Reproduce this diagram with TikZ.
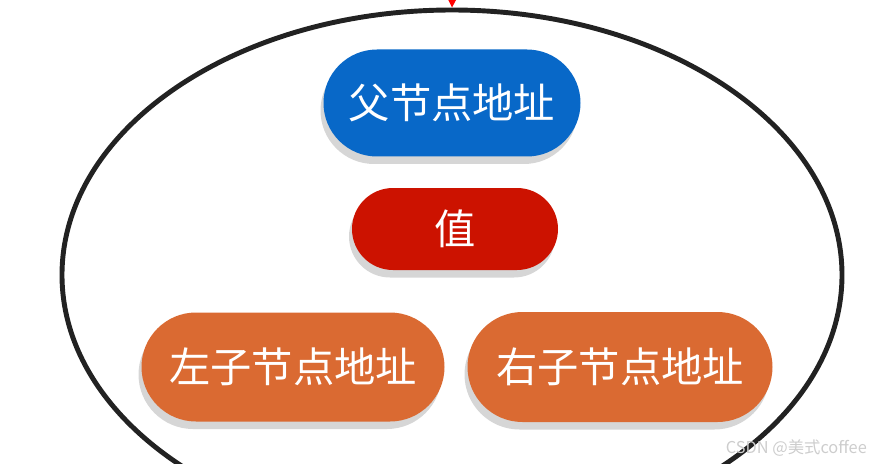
\documentclass[tikz,border=0pt]{standalone}
\usepackage{fontspec}
\setmainfont{Noto Sans CJK SC}
\usepackage{tikz}
\usetikzlibrary{shapes.geometric, shapes.misc, arrows.meta, shadows}
\definecolor{NdBlue}{RGB}{8,104,200}
\definecolor{NdRed}{RGB}{204,18,0}
\definecolor{NdOrange}{RGB}{218,106,50}
\definecolor{NdShadow}{RGB}{214,214,214}
\definecolor{NdRing}{RGB}{34,34,34}
\definecolor{NdMark}{RGB}{205,205,205}

\begin{document}
\begin{tikzpicture}[
          fld/.style={rounded rectangle, inner sep=0pt, text=white,
                      font=\fontsize{23.5}{28}\selectfont,
                      drop shadow={shadow xshift=-0.06cm, shadow yshift=-0.15cm,
                                   fill=NdShadow, opacity=1}},
          ring/.style={ellipse, draw=NdRing, line width=2.8pt, inner sep=0pt,
                       minimum width=15.6cm, minimum height=10.6cm},
          arr/.style={-{Triangle[length=0.3cm, width=0.3cm]}, draw=red, thick}
        ]
        \useasboundingbox (0,0) rectangle (17.52,9.26);
        \clip (0,0) rectangle (17.52,9.26);

        % tree node as one big ring
        \node[ring] (node) at (9.04, 3.76) {};
        \coordinate (in) at (9.06, 10.2);
        \draw[arr] (in) -- (node.north);

        \node[fld, fill=NdBlue, minimum width=5.14cm, minimum height=2.14cm]
              (parent) at (9.04, 7.2) {父节点地址};
        \node[fld, fill=NdRed, minimum width=4.12cm, minimum height=1.64cm]
              (val) at (9.10, 4.68) {值};
        \node[fld, fill=NdOrange, minimum width=6.06cm, minimum height=2.18cm]
              (left) at (5.86, 1.92) {左子节点地址};
        \node[fld, fill=NdOrange, minimum width=6.1cm, minimum height=2.2cm]
              (right) at (12.4, 1.92) {右子节点地址};

        \node[anchor=east, text=NdMark, font=\fontsize{9.3}{11}\selectfont]
              (mark) at (17.46, 0.3) {CSDN @美式coffee};
      \end{tikzpicture}
\end{document}
